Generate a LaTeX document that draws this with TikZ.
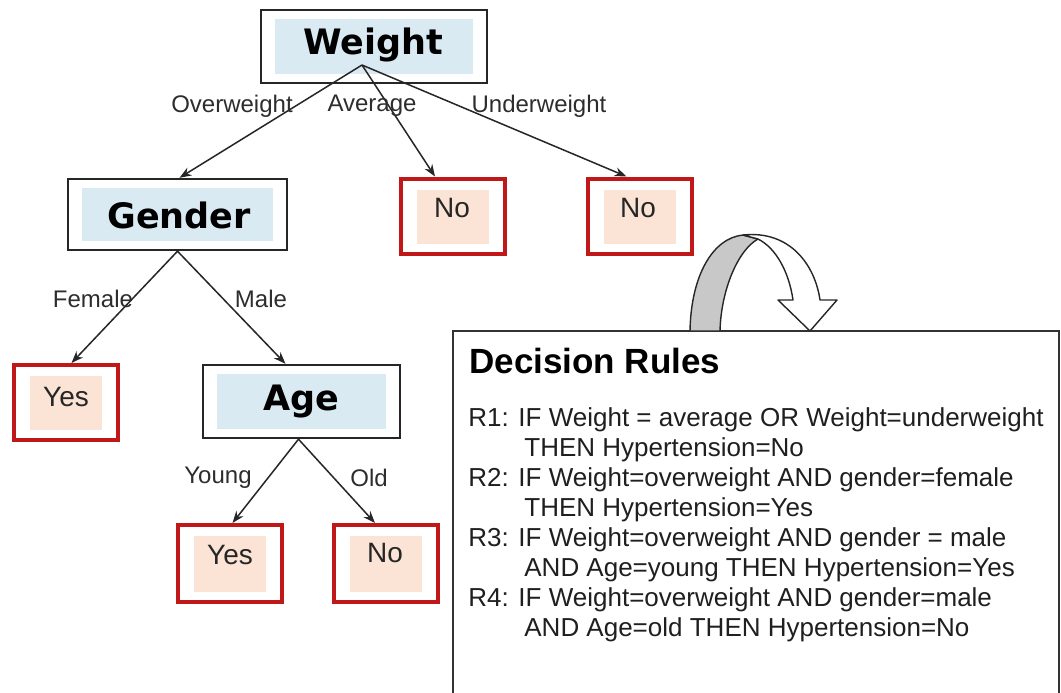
\documentclass[tikz,border=0pt]{standalone}
\usepackage{fontspec}
\setmainfont{Liberation Sans}
\newfontfamily\boxfont{DejaVu Sans}
\usetikzlibrary{calc,arrows.meta}
\definecolor{boxblue}{RGB}{218,234,242}
\definecolor{leafpeach}{RGB}{251,228,213}
\definecolor{leafred}{RGB}{192,24,24}
\definecolor{txtgray}{RGB}{45,45,45}
\definecolor{ribbon}{RGB}{200,200,200}
\begin{document}
\begin{tikzpicture}[x=0.5pt,y=-0.5pt,
  attr/.style={draw=black!85, line width=1.2pt, fill=white, inner sep=0pt,
    path picture={\fill[boxblue] ($(path picture bounding box.north west)+(14,9)$) rectangle ($(path picture bounding box.south east)+(-14,-9)$);}},
  leaf/.style={draw=leafred, line width=2pt, fill=white, inner sep=0pt,
    minimum width=52pt, minimum height=37.5pt,
    path picture={\fill[leafpeach] ($(path picture bounding box.north west)+(16,11)$) rectangle ($(path picture bounding box.south east)+(-16,-10)$);}},
  attrtext/.style={font=\boxfont\bfseries\fontsize{17.5}{20}\selectfont, inner sep=0pt},
  leaftext/.style={font=\fontsize{14}{16}\selectfont, text=black!85, inner sep=0pt},
  edgelabel/.style={font=\fontsize{12}{14}\selectfont, text=txtgray, inner sep=0pt},
  ruletext/.style={font=\fontsize{13}{15}\selectfont, text=black!88, inner sep=0pt, anchor=base west},
  arr/.style={-{Stealth[length=6pt,width=4.5pt]}, line width=0.75pt, draw=black!85},
]
\useasboundingbox (0,0) rectangle (1061,692);
\fill[white] (0,0) rectangle (1061,692);

% attribute boxes
\node[attr, minimum width=113pt, minimum height=36.5pt] (w) at (374,46.5) {};
\node[attrtext] (wt) at (373,45) {Weight};
\node[attr, minimum width=109.5pt, minimum height=35.5pt] (g) at (177.5,214.5) {};
\node[attrtext] (gt) at (179,215) {Gender};
\node[attr, minimum width=98.5pt, minimum height=36.5pt] (a) at (301.5,401.5) {};
\node[attrtext] (at) at (301,402) {Age};

% leaves
\node[leaf] (n1) at (453,216) {};
\node[leaftext] (n1t) at (452,208) {No};
\node[leaf] (n2) at (639.5,216) {};
\node[leaftext] (n2t) at (638,208) {No};
\node[leaf] (y1) at (65.5,402.5) {};
\node[leaftext] (y1t) at (66,397) {Yes};
\node[leaf, minimum height=38.5pt] (y2) at (229.5,563.5) {};
\node[leaftext] (y2t) at (230,555) {Yes};
\node[leaf, minimum height=38.5pt] (n3) at (386,563.5) {};
\node[leaftext] (n3t) at (385,553) {No};

% connectors
\coordinate (wsrc) at (362,65);
\draw[arr] (wsrc) -- ($(g.north)+(2,0)$);
\draw[arr] (wsrc) -- ($(n1.north)+(-18,0)$);
\draw[arr] (wsrc) -- ($(n2.north)+(-13,0)$);
\draw[arr] (g.south) -- ($(y1.north)+(6,0)$);
\draw[arr] (g.south) -- ($(a.north)+(-16,0)$);
\draw[arr] ($(a.south)+(-3,0)$) -- ($(y2.north)+(3,0)$);
\draw[arr] ($(a.south)+(-3,0)$) -- ($(n3.north)+(-11,0)$);

% edge labels
\node[edgelabel] (l1) at (232,106) {Overweight};
\node[edgelabel] (l2) at (372,106) {Average};
\node[edgelabel] (l3) at (539,106) {Underweight};
\node[edgelabel] (l4) at (93,299) {Female};
\node[edgelabel] (l5) at (261,299) {Male};
\node[edgelabel] (l6) at (218,478) {Young};
\node[edgelabel] (l7) at (369,478) {Old};

% decision rules box
\draw[draw=black!80, line width=1pt] (453,700) -- (453,331) -- (1059,331) -- (1059,700);

% curved arrow
\filldraw[fill=ribbon, draw=black!85, line width=0.7pt, line join=round]
  (690,331) .. controls (691,275) and (713,238) .. (743,235)
  -- (758,239) .. controls (738,250) and (721,290) .. (720,331) -- cycle;
\filldraw[fill=white, draw=black!85, line width=0.7pt, line join=round]
  (743,235) .. controls (790,230) and (815,265) .. (820,300)
  -- (837,300) -- (810,331) -- (778,300) -- (793,300)
  .. controls (789,272) and (776,248) .. (758,239) -- cycle;

\node[anchor=base west, inner sep=0pt, font=\bfseries\fontsize{17.5}{20}\selectfont] (title) at (469,373) {Decision Rules};
\node[ruletext] (r1a) at (468,426) {R1: IF Weight = average OR Weight=underweight};
\node[ruletext] (r1b) at (524,456) {THEN Hypertension=No};
\node[ruletext] (r2a) at (468,486) {R2: IF Weight=overweight AND gender=female};
\node[ruletext] (r2b) at (524,516) {THEN Hypertension=Yes};
\node[ruletext] (r3a) at (468,546) {R3: IF Weight=overweight AND gender = male};
\node[ruletext] (r3b) at (524,576) {AND Age=young THEN Hypertension=Yes};
\node[ruletext] (r4a) at (468,606) {R4: IF Weight=overweight AND gender=male};
\node[ruletext] (r4b) at (524,636) {AND Age=old THEN Hypertension=No};
\end{tikzpicture}
\end{document}
